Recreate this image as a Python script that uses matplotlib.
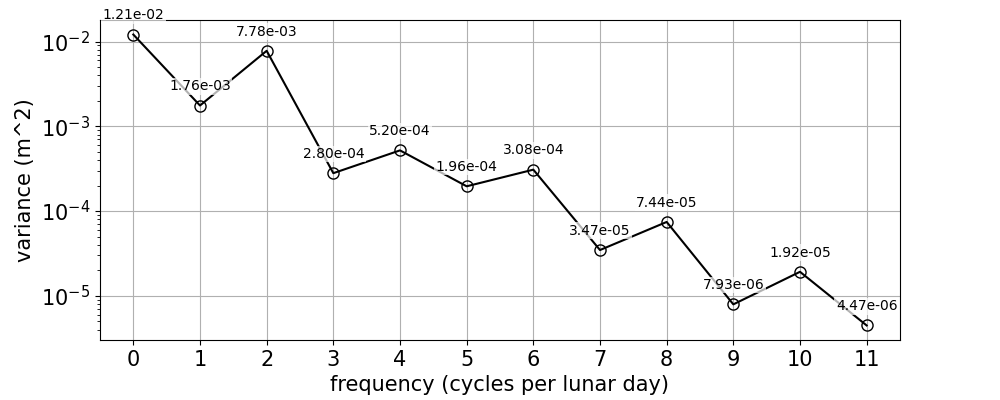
import matplotlib
matplotlib.use("Agg")
import matplotlib.pyplot as plt

# frequencies and variances
freq = [0, 1, 2, 3, 4, 5, 6, 7, 8, 9, 10, 11]
variance = [1.21e-02, 1.76e-03, 7.78e-03, 2.80e-04, 5.20e-04, 1.96e-04,
            3.08e-04, 3.47e-05, 7.44e-05, 7.93e-06, 1.92e-05, 4.47e-06]

fig, ax = plt.subplots(figsize=(10, 4), dpi=100)
fig.subplots_adjust(left=0.1, right=0.9, top=0.95, bottom=0.15)

ax.plot(freq, variance, color="black", marker="o", markersize=8,
        markerfacecolor="none", markeredgecolor="black")
for f, v in zip(freq, variance):
    ax.annotate(f"{v:.2e}", (f, v), textcoords="offset points", xytext=(0, 11),
                ha="center", fontsize=10,
                bbox=dict(boxstyle="square,pad=0.1", fc="white", ec="none", alpha=0.7))

ax.set_yscale("log")
ax.set_xlim(-0.5, 11.5)
ax.set_xticks(freq)
ax.tick_params(labelsize=15)
ax.set_xlabel("frequency (cycles per lunar day)", fontsize=15)
ax.set_ylabel("variance (m^2)", fontsize=15)
ax.grid(True)

fig.savefig("out.png")
